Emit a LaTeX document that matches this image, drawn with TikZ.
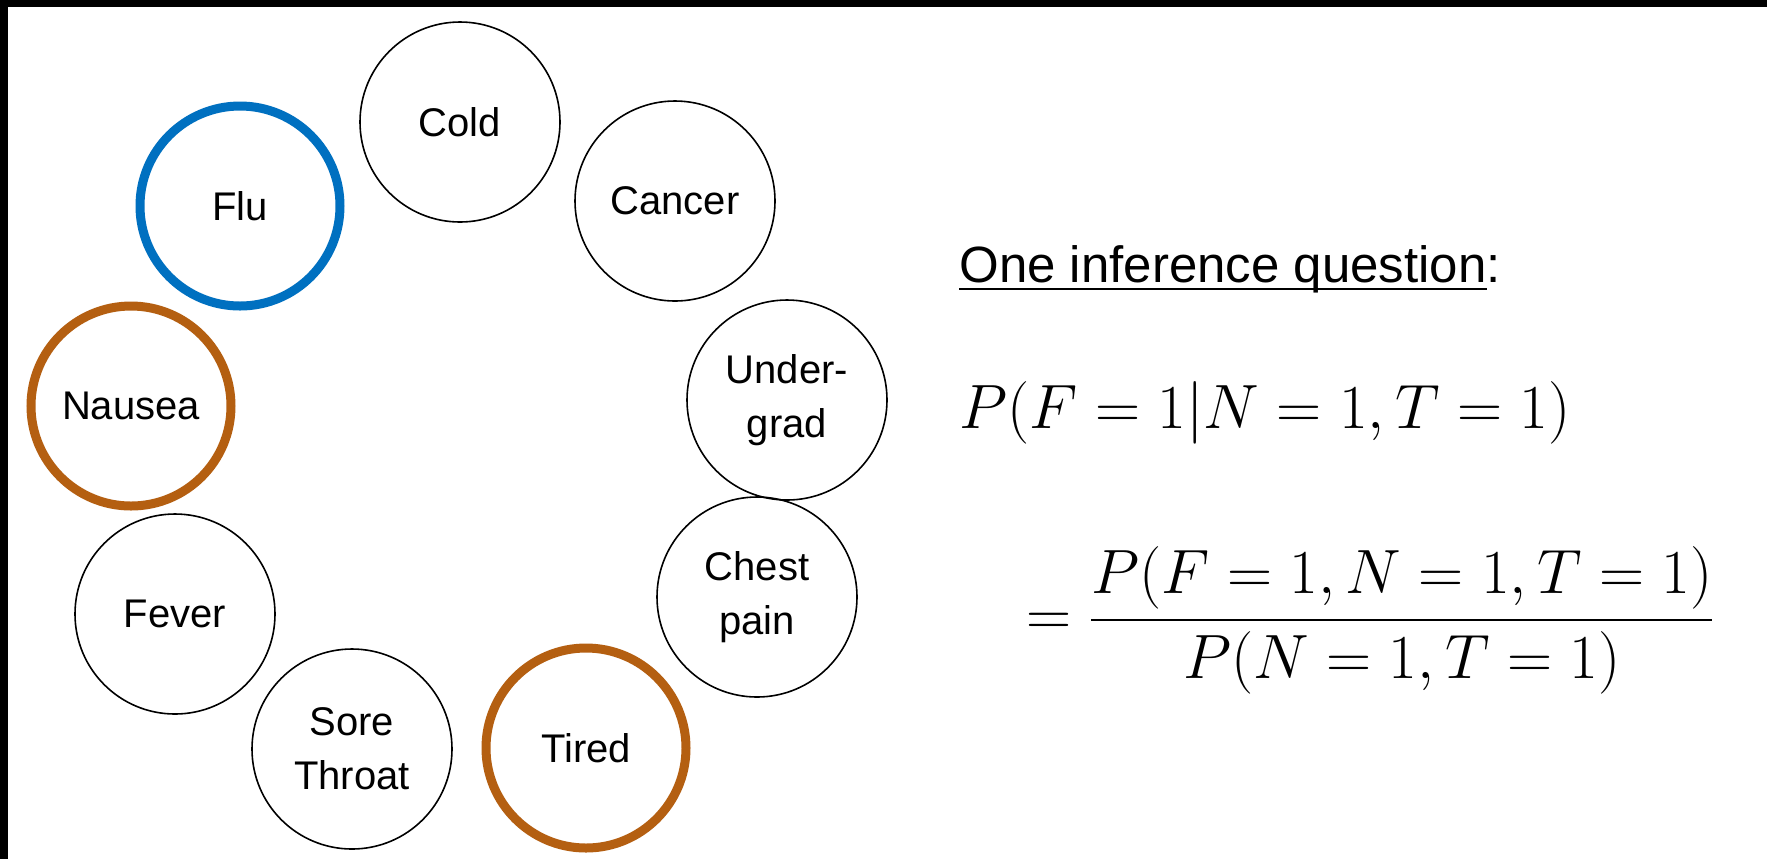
\RequirePackage{fix-cm}
\documentclass[tikz,border=0pt]{standalone}
\usepackage{amsmath}
\usepackage[no-math]{fontspec}
\setmainfont{Liberation Sans}
\usetikzlibrary{positioning}

\definecolor{flublue}{RGB}{0,112,192}
\definecolor{obsbrown}{RGB}{180,95,17}

\tikzset{
	var/.style={circle, draw, line width=0.8pt, minimum size=100pt, inner sep=0pt,
		align=center, font=\fontsize{20}{27}\selectfont},
	query/.style={var, draw=flublue, line width=4.5pt},
	evidence/.style={var, draw=obsbrown, line width=4.5pt}
}

\begin{document}
\begin{tikzpicture}[x=0.5pt,y=-0.5pt]
	% frame
	\fill[black] (0,0) rectangle (1767,859);
	\fill[white] (8,7) rectangle (1767,859);
	\useasboundingbox (0,0) rectangle (1767,859);

	% variables
	\node[var] (cold) at (460,122) {Cold};
	\node[var] (cancer) at (675,201) {Cancer};
	\node[var] (undergrad) at (787,400) {Under-\\grad};
	\node[var] (chest) at (757,597) {Chest\\pain};
	\node[evidence] (tired) at (586,748) {Tired};
	\node[var] (sore) at (352,749) {Sore\\Throat};
	\node[var] (fever) at (175,614) {Fever};
	\node[evidence] (nausea) at (131,406) {Nausea};
	\node[query] (flu) at (240,206) {Flu};

	% question
	\node[anchor=base west, inner sep=0pt, font=\fontsize{25.5}{30}\selectfont] (title) at (959,282)
		{\underline{\smash{One inference question}}:};
	\node[anchor=base west, inner sep=0pt, font=\fontsize{31.3}{36}\selectfont] (condprob) at (959,428)
		{$P(F=1|N=1,T=1)$};
	\node[anchor=west, inner sep=0pt, font=\fontsize{31.3}{36}\selectfont] (ratio) at (1026,620)
		{$\displaystyle =\frac{P(F=1,N=1,T=1)}{P(N=1,T=1)}$};
\end{tikzpicture}
\end{document}
